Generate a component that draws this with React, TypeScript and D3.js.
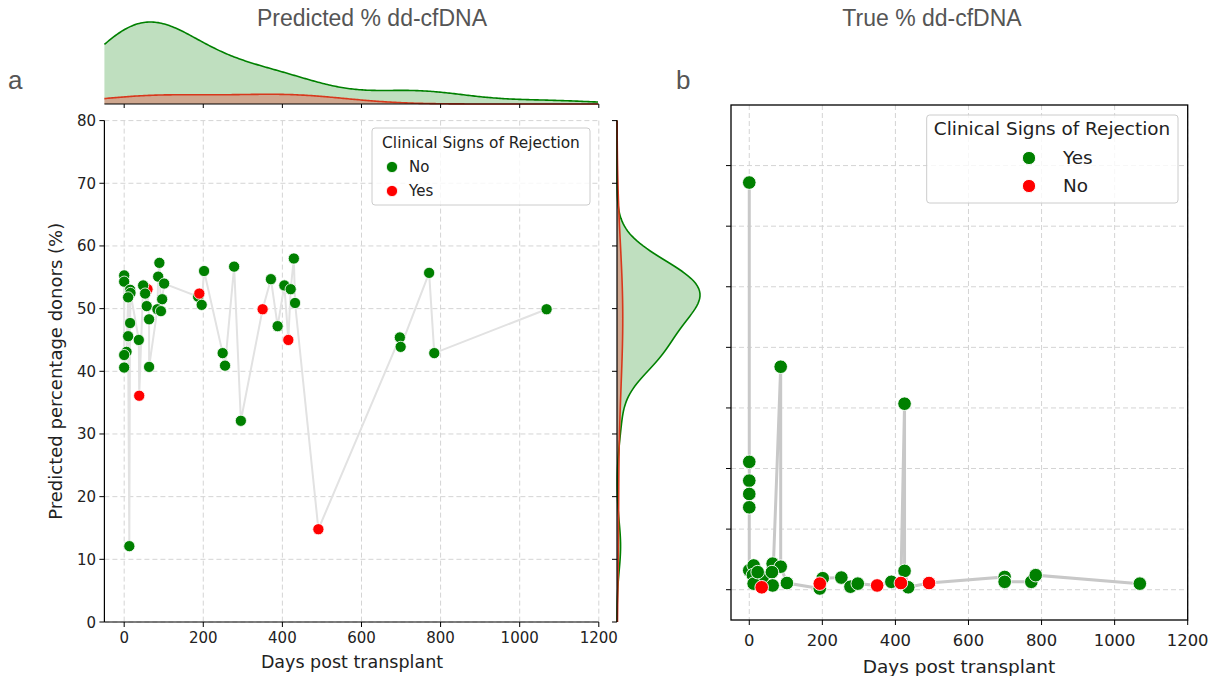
import React from "react";
import * as d3 from "d3";

// left panel: predicted % (days, value)
const predGreenDays = [0, 0, 15, 16, 10, 15, 10, 6, 0, 0, 48, 53, 57, 37, 63, 63, 89, 86, 101, 96, 84, 93, 13, 202, 187, 196, 278, 249, 255, 295, 371, 388, 405, 421, 429, 432, 697, 699, 771, 784, 1068];
const predGreenVals = [55.3, 54.3, 53.0, 52.5, 51.8, 47.7, 45.6, 43.1, 42.6, 40.6, 53.7, 52.4, 50.4, 45.0, 48.3, 40.7, 57.3, 55.1, 54.0, 51.5, 49.9, 49.6, 12.1, 56.0, 51.9, 50.6, 56.7, 42.9, 40.9, 32.1, 54.7, 47.2, 53.7, 53.1, 58.0, 50.9, 45.4, 43.9, 55.7, 42.9, 49.9];
const predRedDays = [59, 38, 190, 350, 415, 491];
const predRedVals = [53.1, 36.1, 52.4, 49.9, 45.0, 14.8];

// right panel: true % (days, value)
const trueGreenDays = [0, 0, 0, 0, 0, 0, 86, 425, 12, 10, 64, 86, 37, 62, 64, 103, 12, 23, 201, 193, 252, 277, 297, 389, 425, 435, 699, 699, 772, 784, 1069];
const trueGreenVals = [67.2, 21.1, 18.0, 15.8, 13.6, 3.2, 36.8, 30.7, 4.0, 2.4, 4.3, 3.8, 2.1, 2.9, 0.7, 1.1, 1.0, 2.9, 1.9, 0.2, 2.0, 0.5, 1.0, 1.3, 3.1, 0.4, 2.1, 1.3, 1.3, 2.4, 1.0];
const trueRedDays = [34, 193, 350, 415, 492];
const trueRedVals = [0.4, 1.0, 0.7, 1.1, 1.1];

const xTicks = [0, 200, 400, 600, 800, 1000, 1200];
const yTicksLeft = [0, 10, 20, 30, 40, 50, 60, 70, 80];
const yTicksRight = [0, 10, 20, 30, 40, 50, 60, 70];

const GREEN = "#008000";
const RED = "#ff0000";
const GRID = "#d4d4d4";
const AX = "DejaVu Sans, sans-serif";
const HEAD = "Liberation Sans, Arial, sans-serif";

// gaussian kde, scott bandwidth, scaled by share of all points (common_norm)
function kde(data: number[], grid: number[], total: number) {
  const n = data.length;
  const bw = (d3.deviation(data) as number) * Math.pow(n, -0.2);
  const k = 1 / (n * bw * Math.sqrt(2 * Math.PI));
  return grid.map((g) => [g, (n / total) * k * d3.sum(data, (v) => Math.exp(-0.5 * ((g - v) / bw) ** 2))]);
}

const App = () => {
  // left
  const xL = d3.scaleLinear().domain([-50, 1200]).range([104.4, 598.8]);
  const yL = d3.scaleLinear().domain([0, 80]).range([622, 120.6]);
  // right
  const xR = d3.scaleLinear().domain([-50, 1200]).range([731, 1187.7]);
  const yR = d3.scaleLinear().domain([-5, 80]).range([620, 105]);

  const N = predGreenDays.length + predRedDays.length;
  const dayGrid = d3.range(-50, 1201, 4);
  const valGrid = d3.range(0, 80.01, 0.4);
  const topG = kde(predGreenDays, dayGrid, N);
  const topR = kde(predRedDays, dayGrid, N);
  const sideG = kde(predGreenVals, valGrid, N);
  const sideR = kde(predRedVals, valGrid, N);

  const yTop = d3.scaleLinear().domain([0, d3.max(topG, (d) => d[1]) as number]).range([104, 22]);
  const xSide = d3.scaleLinear().domain([0, d3.max(sideG, (d) => d[1]) as number]).range([617, 700]);

  const topArea = d3.area<number[]>().x((d) => xL(d[0])).y0(104).y1((d) => yTop(d[1]));
  const topLine = d3.line<number[]>().x((d) => xL(d[0])).y((d) => yTop(d[1]));
  const sideArea = d3.area<number[]>().y((d) => yL(d[0])).x0(617).x1((d) => xSide(d[1]));
  const sideLine = d3.line<number[]>().y((d) => yL(d[0])).x((d) => xSide(d[1]));

  const predAll = predGreenDays
    .map((d, i) => [d, predGreenVals[i]])
    .concat(predRedDays.map((d, i) => [d, predRedVals[i]]))
    .sort((a, b) => a[0] - b[0]);
  const trueAll = trueGreenDays
    .map((d, i) => [d, trueGreenVals[i]])
    .concat(trueRedDays.map((d, i) => [d, trueRedVals[i]]))
    .sort((a, b) => a[0] - b[0]);

  const predLine = d3.line<number[]>().x((d) => xL(d[0])).y((d) => yL(d[1]));
  const trueLine = d3.line<number[]>().x((d) => xR(d[0])).y((d) => yR(d[1]));

  return (
    <svg width={1215} height={676} style={{ position: "absolute", left: 0, top: 0, background: "#fff" }}>
      {/* headings */}
      <text x={372} y={26} fontFamily={HEAD} fontSize={23} fill="#555" textAnchor="middle">Predicted % dd-cfDNA</text>
      <text x={932} y={26} fontFamily={HEAD} fontSize={23} fill="#555" textAnchor="middle">True % dd-cfDNA</text>
      <text x={8} y={89} fontFamily={HEAD} fontSize={26} fill="#555">a</text>
      <text x={676} y={89} fontFamily={HEAD} fontSize={26} fill="#555">b</text>

      {/* ===== left panel ===== */}
      <g>
        {xTicks.map((t) => (
          <line key={"gx" + t} x1={xL(t)} x2={xL(t)} y1={120.6} y2={622} stroke={GRID} strokeDasharray="5,3" />
        ))}
        {yTicksLeft.map((t) => (
          <line key={"gy" + t} x1={104.4} x2={598.8} y1={yL(t)} y2={yL(t)} stroke={GRID} strokeDasharray="5,3" />
        ))}
        <path d={predLine(predAll) as string} fill="none" stroke="#e2e2e2" strokeWidth={2} />
        {predRedDays.slice(0, 1).map((d, i) => (
          <circle key={"pr0" + i} cx={xL(d)} cy={yL(predRedVals[i])} r={5.6} fill={RED} stroke="#fff" strokeWidth={0.8} />
        ))}
        {predGreenDays.map((d, i) => (
          <circle key={"pg" + i} cx={xL(d)} cy={yL(predGreenVals[i])} r={5.6} fill={GREEN} stroke="#fff" strokeWidth={0.8} />
        ))}
        {predRedDays.slice(1).map((d, i) => (
          <circle key={"pr" + i} cx={xL(d)} cy={yL(predRedVals[i + 1])} r={5.6} fill={RED} stroke="#fff" strokeWidth={0.8} />
        ))}
        {/* spines */}
        <line x1={104.4} x2={104.4} y1={120.6} y2={622} stroke="#000" strokeWidth={1.2} />
        <line x1={104.4} x2={598.8} y1={622} y2={622} stroke="#000" strokeWidth={1.2} />
        {xTicks.map((t) => (
          <g key={"xt" + t}>
            <line x1={xL(t)} x2={xL(t)} y1={622} y2={627} stroke="#000" />
            <text x={xL(t)} y={643} fontFamily={AX} fontSize={15} fill="#222" textAnchor="middle">{t}</text>
          </g>
        ))}
        {yTicksLeft.map((t) => (
          <g key={"yt" + t}>
            <line x1={99.4} x2={104.4} y1={yL(t)} y2={yL(t)} stroke="#000" />
            <text x={96} y={yL(t) + 5.5} fontFamily={AX} fontSize={15} fill="#222" textAnchor="end">{t}</text>
          </g>
        ))}
        <text x={352} y={668} fontFamily={AX} fontSize={17.5} fill="#222" textAnchor="middle">Days post transplant</text>
        <text transform={`translate(62,${(622 + 120.6) / 2}) rotate(-90)`} fontFamily={AX} fontSize={18} fill="#222" textAnchor="middle">Predicted percentage donors (%)</text>

        {/* legend */}
        <rect x={372} y={128} width={218} height={77} rx={3} fill="#fff" fillOpacity={0.8} stroke="#ccc" />
        <text x={481} y={148} fontFamily={AX} fontSize={15.4} fill="#222" textAnchor="middle">Clinical Signs of Rejection</text>
        <circle cx={392} cy={167} r={5.6} fill={GREEN} stroke="#fff" strokeWidth={0.8} />
        <text x={409} y={172} fontFamily={AX} fontSize={15} fill="#222">No</text>
        <circle cx={392} cy={191} r={5.6} fill={RED} stroke="#fff" strokeWidth={0.8} />
        <text x={409} y={196} fontFamily={AX} fontSize={15} fill="#222">Yes</text>

        {/* top marginal */}
        <path d={topArea(topG) as string} fill={GREEN} fillOpacity={0.25} />
        <path d={topArea(topR) as string} fill={RED} fillOpacity={0.25} />
        <path d={topLine(topG) as string} fill="none" stroke={GREEN} strokeWidth={1.6} />
        <path d={topLine(topR) as string} fill="none" stroke="#d8381c" strokeWidth={1.6} />
        <line x1={104.4} x2={598.8} y1={104} y2={104} stroke="#000" strokeWidth={1.2} />
        {xTicks.map((t) => (
          <line key={"mt" + t} x1={xL(t)} x2={xL(t)} y1={104} y2={108} stroke="#000" />
        ))}

        {/* right marginal */}
        <path d={sideArea(sideG) as string} fill={GREEN} fillOpacity={0.25} />
        <path d={sideArea(sideR) as string} fill={RED} fillOpacity={0.25} />
        <path d={sideLine(sideG) as string} fill="none" stroke={GREEN} strokeWidth={1.6} />
        <path d={sideLine(sideR) as string} fill="none" stroke="#d8381c" strokeWidth={1.6} />
        <line x1={617} x2={617} y1={120.6} y2={622} stroke="#000" strokeWidth={1.2} />
        {yTicksLeft.map((t) => (
          <line key={"ms" + t} x1={612} x2={617} y1={yL(t)} y2={yL(t)} stroke="#000" />
        ))}
      </g>

      {/* ===== right panel ===== */}
      <g>
        {xTicks.map((t) => (
          <line key={"rgx" + t} x1={xR(t)} x2={xR(t)} y1={105} y2={620} stroke={GRID} strokeDasharray="5,3" />
        ))}
        {yTicksRight.map((t) => (
          <line key={"rgy" + t} x1={731} x2={1187.7} y1={yR(t)} y2={yR(t)} stroke={GRID} strokeDasharray="5,3" />
        ))}
        <path d={trueLine(trueAll) as string} fill="none" stroke="#c8c8c8" strokeWidth={3} />
        {trueGreenDays.map((d, i) => (
          <circle key={"tg" + i} cx={xR(d)} cy={yR(trueGreenVals[i])} r={6.8} fill={GREEN} stroke="#fff" strokeWidth={0.9} />
        ))}
        {trueRedDays.map((d, i) => (
          <circle key={"tr" + i} cx={xR(d)} cy={yR(trueRedVals[i])} r={6.8} fill={RED} stroke="#fff" strokeWidth={0.9} />
        ))}
        <rect x={731} y={105} width={456.7} height={515} fill="none" stroke="#000" strokeWidth={1.3} />
        {xTicks.map((t) => (
          <g key={"rxt" + t}>
            <line x1={xR(t)} x2={xR(t)} y1={620} y2={625} stroke="#000" />
            <text x={xR(t)} y={646} fontFamily={AX} fontSize={16.4} fill="#222" textAnchor="middle">{t}</text>
          </g>
        ))}
        {yTicksRight.map((t) => (
          <line key={"ryt" + t} x1={726} x2={731} y1={yR(t)} y2={yR(t)} stroke="#000" />
        ))}
        <text x={959} y={673} fontFamily={AX} fontSize={18.5} fill="#222" textAnchor="middle">Days post transplant</text>

        {/* legend */}
        <rect x={926.7} y={115} width={251.3} height={88} rx={3} fill="#fff" fillOpacity={0.8} stroke="#ccc" />
        <text x={1052} y={135} fontFamily={AX} fontSize={18.4} fill="#222" textAnchor="middle">Clinical Signs of Rejection</text>
        <circle cx={1029} cy={158} r={6.6} fill={GREEN} stroke="#fff" strokeWidth={0.9} />
        <text x={1063} y={164} fontFamily={AX} fontSize={18.4} fill="#222">Yes</text>
        <circle cx={1029} cy={186} r={6.6} fill={RED} stroke="#fff" strokeWidth={0.9} />
        <text x={1063} y={192} fontFamily={AX} fontSize={18.4} fill="#222">No</text>
      </g>
    </svg>
  );
};

export default App;
